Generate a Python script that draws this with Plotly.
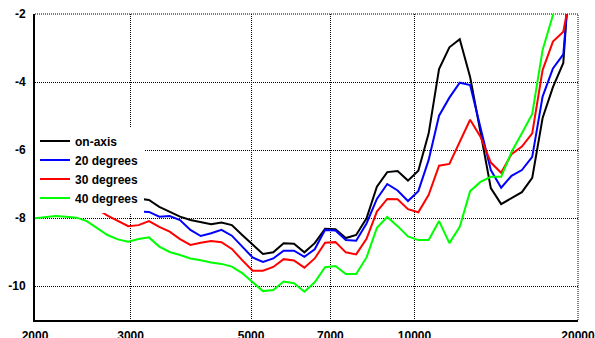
import math
import plotly.graph_objects as go

freq = [2000, 2090, 2184, 2282, 2384, 2491, 2603, 2720, 2842, 2970,
        3103, 3243, 3388, 3540, 3699, 3866, 4039, 4221, 4410, 4608,
        4815, 5032, 5258, 5494, 5740, 5998, 6268, 6549, 6843, 7151,
        7472, 7807, 8158, 8524, 8907, 9307, 9725, 10162, 10618, 11095,
        11593, 12113, 12657, 13225, 13819, 14439, 15087, 15765, 16472, 17212,
        17984, 18792, 19636]

on_axis = [-7.09, -7.12, -7.15, -7.18, -7.21, -7.24, -7.27, -7.31, -7.35, -7.39,
           -7.43, -7.47, -7.67, -7.81, -7.96, -8.06, -8.11, -8.18, -8.13, -8.21,
           -8.50, -8.79, -9.06, -9.01, -8.74, -8.76, -9.01, -8.74, -8.32, -8.33,
           -8.59, -8.50, -8.01, -7.08, -6.65, -6.62, -6.90, -6.61, -5.51, -3.62,
           -2.98, -2.74, -3.85, -5.47, -7.12, -7.59, -7.41, -7.24, -6.82, -5.06,
           -4.15, -3.44, 1.0]

deg20 = [-7.16, -7.22, -7.30, -7.38, -7.46, -7.53, -7.60, -7.66, -7.71, -7.78,
         -7.81, -7.82, -7.96, -7.94, -8.06, -8.35, -8.53, -8.45, -8.35, -8.52,
         -8.84, -9.16, -9.29, -9.19, -8.96, -8.96, -9.14, -8.92, -8.35, -8.37,
         -8.65, -8.67, -8.16, -7.44, -7.00, -7.19, -7.50, -7.21, -6.29, -4.99,
         -4.46, -4.02, -4.09, -5.32, -6.59, -7.11, -6.76, -6.59, -6.20, -4.43,
         -3.60, -3.19, 0.5]

deg30 = [-7.45, -7.50, -7.55, -7.60, -7.65, -7.70, -7.74, -7.93, -8.09, -8.24,
         -8.21, -8.09, -8.26, -8.40, -8.62, -8.79, -8.73, -8.68, -8.71, -8.91,
         -9.24, -9.55, -9.55, -9.44, -9.21, -9.25, -9.46, -9.19, -8.73, -8.71,
         -9.01, -9.07, -8.61, -7.81, -7.44, -7.45, -7.74, -7.83, -7.32, -6.46,
         -6.41, -5.78, -5.11, -5.61, -6.37, -6.67, -6.12, -5.90, -5.51, -3.65,
         -2.81, -2.52, -0.9]

deg40 = [-8.01, -7.97, -7.94, -7.96, -7.99, -8.09, -8.29, -8.50, -8.63, -8.70,
         -8.62, -8.57, -8.84, -9.00, -9.09, -9.19, -9.24, -9.31, -9.35, -9.43,
         -9.62, -9.90, -10.15, -10.12, -9.87, -9.92, -10.17, -9.89, -9.45, -9.41,
         -9.65, -9.65, -9.16, -8.29, -7.97, -8.24, -8.54, -8.65, -8.65, -8.09,
         -8.74, -8.26, -7.21, -6.94, -6.79, -6.79, -6.06, -5.51, -4.94, -3.06,
         -1.95, -1.0, -0.5]

series_names = ["on-axis", "20 degrees", "30 degrees", "40 degrees"]
series_values = [on_axis, deg20, deg30, deg40]
series_colors = ["#000000", "#0000ff", "#ff0000", "#00ff00"]

x_tickvals = [2000, 3000, 5000, 7000, 10000, 20000]
x_ticktext = ["2000", "3000", "5000", "7000", "10000", "20000"]
y_tickvals = [-10, -8, -6, -4, -2]
y_ticktext = ["-10", "-8", "-6", "-4", "-2"]

x_min, x_max = x_tickvals[0], x_tickvals[-1]
y_min, y_max = -11, y_tickvals[-1]

fig = go.Figure()
for name, vals, col in zip(series_names, series_values, series_colors):
    fig.add_trace(go.Scatter(x=freq, y=vals, mode="lines", name=name,
                             line=dict(color=col, width=2)))

# dotted frame lines along the top and right edges of the plot area
grid_dash = "1px,1px"
fig.add_shape(type="line", xref="paper", yref="paper", x0=0, x1=1, y0=1, y1=1,
              line=dict(color="#000000", width=1, dash=grid_dash), layer="below")
fig.add_shape(type="line", xref="paper", yref="paper", x0=1, x1=1, y0=0, y1=1,
              line=dict(color="#000000", width=1, dash=grid_dash), layer="below")

tickfont = dict(family="Liberation Sans", size=12, color="#000000", weight="bold")

fig.update_layout(
    width=595, height=338,
    margin=dict(l=35, r=17, t=14, b=18),
    paper_bgcolor="white", plot_bgcolor="white",
    showlegend=True,
    legend=dict(x=0.0, y=0.632, xanchor="left", yanchor="top",
                bgcolor="white", borderwidth=0,
                font=dict(family="Liberation Sans", size=12, color="#000000", weight="bold"),
                tracegroupgap=0),
    xaxis=dict(type="log", range=[math.log10(x_min), math.log10(x_max)],
               tickvals=x_tickvals, ticktext=x_ticktext,
               showgrid=True, gridcolor="#000000", griddash=grid_dash, gridwidth=1,
               showline=True, linecolor="#000000", linewidth=2,
               ticks="", tickfont=tickfont, ticklabelstandoff=4,
               ticklabeloverflow="allow",
               zeroline=False, automargin=False),
    yaxis=dict(range=[y_min, y_max],
               tickvals=y_tickvals, ticktext=y_ticktext,
               showgrid=True, gridcolor="#000000", griddash=grid_dash, gridwidth=1,
               showline=True, linecolor="#000000", linewidth=2,
               ticks="", tickfont=tickfont, ticklabelstandoff=5,
               ticklabeloverflow="allow",
               zeroline=False, automargin=False),
)

# remove the default page margin so the figure sits at the window's corner
fig.write_html("out.html",
               config={"displayModeBar": False},
               post_script="document.body.style.margin='0';document.body.style.overflow='hidden';")
